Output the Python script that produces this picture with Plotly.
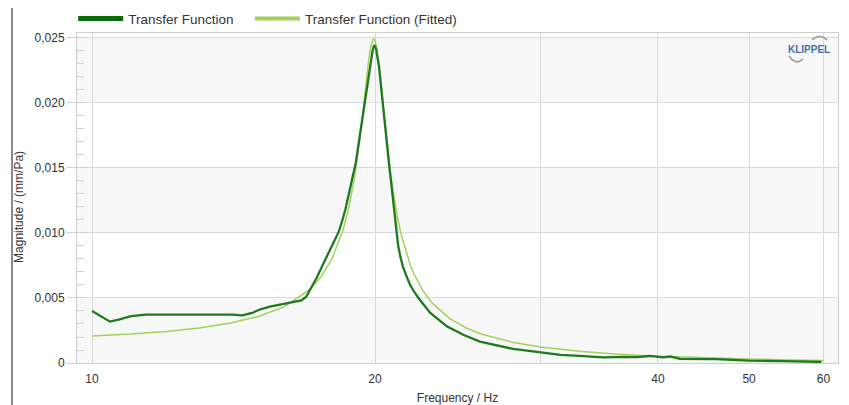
import plotly.graph_objects as go

freq_meas = [10.0, 10.2, 10.45, 10.7, 11.0, 11.4, 12.0, 12.5, 13.0, 13.7, 14.1, 14.45, 14.8,
             15.1, 15.5, 16.0, 16.4, 16.7, 16.9, 17.1, 17.35, 17.6, 17.9, 18.1, 18.3, 18.45, 18.6,
             18.8, 18.95, 19.08, 19.18, 19.28, 19.4, 19.53, 19.65, 19.78, 19.88, 19.96, 20.05,
             20.1, 20.2, 20.27, 20.35, 20.45, 20.53, 20.62, 20.7, 20.76, 20.83, 20.92, 21.0,
             21.08, 21.17, 21.28, 21.42, 21.6, 21.77, 22.0, 22.3, 22.9, 23.87, 24.86, 25.86,
             28.06, 30.05, 31.5, 33.0, 35.0, 36.7, 38.0, 39.2, 40.5, 41.2, 42.2, 46.1, 50.0,
             54.4, 59.7]
mag_meas = [0.00400, 0.00365, 0.00318, 0.00335, 0.00360, 0.00372, 0.00372, 0.00370, 0.00368,
            0.00372, 0.00372, 0.00366, 0.00385, 0.00413, 0.00435, 0.00455, 0.00468, 0.00482,
            0.00510, 0.00575, 0.00660, 0.00755, 0.00870, 0.00940, 0.01010, 0.01090, 0.01180,
            0.01330, 0.01440, 0.01540, 0.01650, 0.01760, 0.01900, 0.02040, 0.02170, 0.02300,
            0.02400, 0.02446, 0.02420, 0.02370, 0.02280, 0.02170, 0.02040, 0.01880, 0.01750,
            0.01650, 0.01530, 0.01450, 0.01350, 0.01250, 0.01125, 0.01010, 0.00900, 0.00820,
            0.00740, 0.00670, 0.00610, 0.00550, 0.00490, 0.00385, 0.00280, 0.00215, 0.00164,
            0.00108, 0.00078, 0.00062, 0.00055, 0.00044, 0.00047, 0.00045, 0.00054, 0.00044,
            0.00050, 0.00031, 0.00030, 0.00018, 0.00015, 0.00008]

# Fitted transfer function
freq_fit = [10, 11, 12, 13, 14, 15, 16, 17, 17.5, 18, 18.5, 18.75, 19, 19.1, 19.25, 19.4,
            19.5, 19.6, 19.7, 19.8, 19.85, 19.9, 19.95, 20.0, 20.05, 20.1, 20.2, 20.3, 20.4,
            20.5, 20.6, 20.7, 20.8, 20.9, 21, 21.15, 21.3, 21.6, 21.8, 22, 22.5, 23, 24, 25,
            26, 28, 30, 33, 36, 40, 45, 50, 55, 60]
mag_fit = [0.00208, 0.00223, 0.00243, 0.00270, 0.00305, 0.00356, 0.00432, 0.00558, 0.00657,
           0.00801, 0.01026, 0.01190, 0.01409, 0.01515, 0.01699, 0.01907, 0.02058, 0.02207,
           0.02338, 0.02439, 0.02470, 0.02489, 0.02490, 0.02480, 0.02446, 0.02405, 0.02285,
           0.02140, 0.01980, 0.01828, 0.01684, 0.01550, 0.01431, 0.01325, 0.01230, 0.01107,
           0.01003, 0.00841, 0.00756, 0.00686, 0.00554, 0.00462, 0.00343, 0.00270, 0.00221,
           0.00160, 0.00123, 0.00090, 0.00069, 0.00052, 0.00038, 0.00030, 0.00024, 0.00019]

x_tickvals = [10, 20, 30, 40, 50, 60]
x_ticktext = ["10", "20", "", "40", "50", "60"]
y_tickvals = [0, 0.005, 0.010, 0.015, 0.020, 0.025]
y_ticktext = ["0", "0,005", "0,010", "0,015", "0,020", "0,025"]
band_ranges = [(0, 0.005), (0.010, 0.015), (0.020, 0.025)]

series_names = ["Transfer Function", "Transfer Function (Fitted)"]
dark = "#1f7a1f"
dark_leg = "#0b6b0b"
light = "#a3d05a"

FONT = "Liberation Sans, Arial, sans-serif"

fig = go.Figure()
fig.add_trace(go.Scatter(x=freq_fit, y=mag_fit, mode="lines", showlegend=False,
                         line=dict(color=light, width=1.5), name=series_names[1]))
fig.add_trace(go.Scatter(x=freq_meas, y=mag_meas, mode="lines", showlegend=False,
                         line=dict(color=dark, width=2.3), name=series_names[0]))
# legend entries (one legend box per entry to match the spacing)
fig.add_trace(go.Scatter(x=[None], y=[None], mode="lines", name=series_names[0],
                         line=dict(color=dark_leg, width=5), legend="legend"))
fig.add_trace(go.Scatter(x=[None], y=[None], mode="lines", name=series_names[1],
                         line=dict(color=light, width=4), legend="legend2"))

shapes = []
for lo, hi in band_ranges:
    shapes.append(dict(type="rect", xref="paper", yref="y", x0=0, x1=1, y0=lo, y1=hi,
                       fillcolor="#f7f7f7", line=dict(width=0), layer="below"))
# klippel logo arcs (pixel-sized paths anchored in paper coords)
shapes.append(dict(type="path", xref="paper", yref="paper", xsizemode="pixel", ysizemode="pixel",
                   xanchor=0.9757, yanchor=0.9788, path="M -7.5,0 Q 0,7 7.5,0",
                   line=dict(color="#9a9a9a", width=1.5)))
shapes.append(dict(type="path", xref="paper", yref="paper", xsizemode="pixel", ysizemode="pixel",
                   xanchor=0.9448, yanchor=0.9273, path="M -7,1 Q 0,-9 7,-2",
                   line=dict(color="#9a9a9a", width=1.5)))
# screenshot frame line at left
shapes.append(dict(type="line", xref="paper", yref="paper", x0=-0.0854, x1=-0.0854,
                   y0=-0.2, y1=1.2, line=dict(color="#8a8a8a", width=2)))

legend_style = dict(orientation="h", xanchor="left", y=1.09, yanchor="top",
                    font=dict(family=FONT, size=13.5, color="#333333"),
                    bgcolor="rgba(0,0,0,0)", itemwidth=45)

# page body has an 8px margin, so the figure is sized/offset to compensate
fig.update_layout(
    width=841, height=397,
    margin=dict(l=69, r=11, t=25, b=42, autoexpand=False),
    paper_bgcolor="white", plot_bgcolor="white",
    font=dict(family=FONT, size=12, color="#333333"),
    showlegend=True,
    legend=dict(x=-0.005, **legend_style),
    legend2=dict(x=0.2273, **legend_style),
    shapes=shapes,
    annotations=[
        dict(text="<b>KLIPPEL</b>", xref="paper", yref="paper", x=0.962, y=0.9485,
             xanchor="center", yanchor="middle",
             showarrow=False, font=dict(family=FONT, size=10, color="#3f72aa")),
        dict(text="Magnitude / (mm/Pa)", xref="paper", yref="paper", x=-0.0762, y=0.473,
             xanchor="center", yanchor="middle", textangle=-90,
             showarrow=False, font=dict(family=FONT, size=12, color="#333333")),
    ],
    xaxis=dict(type="log", range=[0.984, 1.7936], tickvals=x_tickvals, ticktext=x_ticktext,
               showgrid=True, gridcolor="#d9d9d9", gridwidth=1, zeroline=False,
               showline=True, linecolor="#cfcfcf", linewidth=1, mirror=True,
               ticks="", ticklabelstandoff=5, tickfont=dict(size=12, color="#333333"), automargin=False,
               title=dict(text="Frequency / Hz", font=dict(size=12, color="#333333"), standoff=15)),
    yaxis=dict(range=[0, 0.02538], tickvals=y_tickvals, ticktext=y_ticktext,
               showgrid=True, gridcolor="#d9d9d9", gridwidth=1, zeroline=False,
               showline=True, linecolor="#cfcfcf", linewidth=1, mirror=True,
               ticks="outside", ticklen=9, tickcolor="#cfcfcf", automargin=False,
               minor=dict(dtick=0.001, ticks="inside", ticklen=7, tickcolor="#cfcfcf", showgrid=False),
               tickfont=dict(size=12, color="#333333")),
)

fig.write_html("out.html")
